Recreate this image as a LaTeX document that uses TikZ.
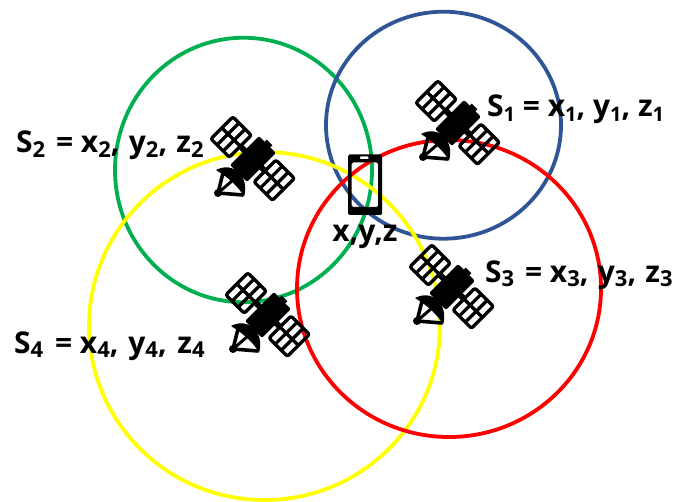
\documentclass[tikz,border=0pt]{standalone}
\usepackage{fontspec}
\usetikzlibrary{shapes.geometric}
\setmainfont{Open Sans}
\newcommand{\sbs}[2][20]{\raisebox{-0.16em}{\fontsize{#1}{#1}\selectfont #2}}
\tikzset{
  ring/.style={line width=3.8pt,draw,ellipse,inner sep=0pt},
  lab/.style={inner sep=0pt,font=\fontsize{30}{32}\selectfont\bfseries,text=black},
  panelline/.style={draw=black,line width=3.3pt,line join=round},
}
\definecolor{cblue}{RGB}{47,85,151}
\definecolor{cgreen}{RGB}{0,176,80}
\definecolor{cyellow}{RGB}{255,255,0}
\definecolor{cred}{RGB}{255,0,0}
\newcommand{\solarpanel}[1]{%
  \begin{scope}[shift={(#1,0)}]
    \draw[panelline,rounded corners=2pt] (-13,-15.5) rectangle (13,15.5);
    \draw[panelline] (-13,0) -- (13,0) (-4.3,-15.5) -- (-4.3,15.5) (4.3,-15.5) -- (4.3,15.5);
  \end{scope}}
\newcommand{\satellite}[2]{%
  \begin{scope}[shift={(#1,#2)}]
    \begin{scope}[rotate=-45]
      \solarpanel{-31}
      \solarpanel{30}
      \fill[black,rounded corners=2pt] (-12,-20.5) rectangle (12,20.5);
      \fill[black] (-17,-3) rectangle (17,3);
      \fill[black] (-4,-23.5) rectangle (4,-17);
    \end{scope}
    \fill[black,line join=round] (-37,11) .. controls (-20,2) and (-3,17) .. (-9,38) .. controls (-13,29) and (-24,19) .. cycle;
    \draw[black,line width=3.6pt] (-35,34) -- (-10,36);
    \draw[black,line width=3.6pt] (-35,34) -- (-30,14);
    \draw[black,line width=3pt] (-35,34) -- (-20,21);
    \fill[black] (-35,34) circle (4);
  \end{scope}}
\begin{document}
\begin{tikzpicture}[x=1pt,y=-1pt]
\useasboundingbox (0,0) rectangle (676,502);
\node[ring,draw=cgreen,minimum width=257pt,minimum height=264.5pt] (green) at (243.5,170) {};
\node[ring,draw=cblue,minimum width=235pt,minimum height=227pt] (blue) at (443.5,125.2) {};
\node[ring,draw=cyellow,minimum width=351pt,minimum height=348pt] (yellow) at (264.5,326) {};
\node[ring,draw=cred,minimum width=304pt,minimum height=297pt] (red) at (449,288.5) {};
\satellite{458}{123}
\satellite{253}{159}
\satellite{452}{287}
\satellite{268}{315}
\fill[black,even odd rule,rounded corners=1.5pt] (348,154.5) rectangle (382,215) (351.5,162.5) rectangle (378,207);
\fill[white,rounded corners=0.8pt] (360,156.5) rectangle (368.5,159);
\node[lab,anchor=base west] (s1) at (487,117) {S\sbs{1} = x\sbs{1}, y\sbs{1}, z\sbs{1}};
\node[lab,anchor=base west] (s2) at (16,153) {S\sbs[22]{2}\hspace{3pt} = x\sbs[22]{2},\hspace{1.5pt} y\sbs[22]{2},\hspace{1.5pt} z\sbs[22]{2}};
\node[lab,anchor=base west] (s3) at (485,282) {S\sbs[22]{3}\hspace{3pt} = x\sbs[22]{3},\hspace{1.5pt} y\sbs[22]{3},\hspace{1.5pt} z\sbs[22]{3}};
\node[lab,anchor=base west] (s4) at (14,353) {S\sbs[22]{4}\hspace{4pt} = x\sbs[22]{4},\hspace{2pt} y\sbs[22]{4},\hspace{3pt} z\sbs[22]{4}};
\node[lab,anchor=base] (p) at (365,242) {x,y,z};
\end{tikzpicture}
\end{document}
